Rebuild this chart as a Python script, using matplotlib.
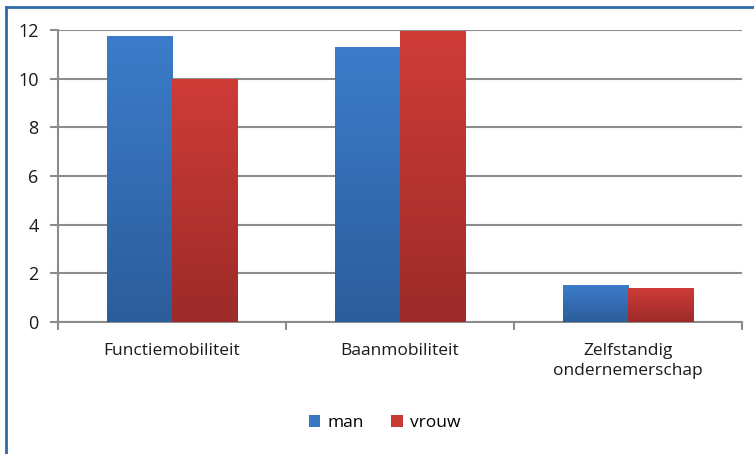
import numpy as np
import matplotlib
matplotlib.use("Agg")
import matplotlib.pyplot as plt
from matplotlib.colors import LinearSegmentedColormap
from matplotlib.patches import Patch
from matplotlib.lines import Line2D

# data
categories = ["Functiemobiliteit", "Baanmobiliteit", "Zelfstandig\nondernemerschap"]
series_names = ["man", "vrouw"]
man = [11.75, 11.3, 1.5]
vrouw = [10.0, 11.95, 1.4]
yticks = [0, 2, 4, 6, 8, 10, 12]

plt.rcParams['font.family'] = ['Open Sans', 'DejaVu Sans']

# gradient colours: (bottom, top)
grads = {
    "man": ("#2c5d9b", "#3c7cca"),
    "vrouw": ("#9c2b29", "#cf3c38"),
}
legend_cols = {"man": "#3a77c2", "vrouw": "#c83935"}

fig = plt.figure(figsize=(7.54, 4.54), dpi=100)
ax = fig.add_axes([0.077, 0.291, 0.907, 0.643])

x = np.arange(len(categories))
w = 0.286
grad = np.linspace(0, 1, 256).reshape(-1, 1)

for vals, name, off in [(man, "man", -w / 2), (vrouw, "vrouw", w / 2)]:
    cmap = LinearSegmentedColormap.from_list(name, grads[name])
    bars = ax.bar(x + off, vals, width=w, color="none", edgecolor="none", zorder=3)
    for b in bars:
        x0, x1 = b.get_x(), b.get_x() + b.get_width()
        h = b.get_height()
        im = ax.imshow(grad, extent=[x0, x1, 0, h], origin="lower", aspect="auto",
                       cmap=cmap, zorder=3)
        im.set_clip_path(b)

ax.set_xlim(-0.5, len(categories) - 0.5)
ax.set_ylim(0, 12)
ax.set_yticks(yticks)
ax.yaxis.grid(True, color="#8c8c8c", linewidth=1.5, zorder=0)
ax.set_axisbelow(True)

for s in ["top", "right"]:
    ax.spines[s].set_visible(False)
for s in ["left", "bottom"]:
    ax.spines[s].set_color("#8c8c8c")
    ax.spines[s].set_linewidth(1.5)

ax.tick_params(axis="y", length=6, width=1.5, color="#8c8c8c", labelsize=13,
               pad=8, labelcolor="#1a1a1a")
ax.set_xticks(np.arange(len(categories) + 1) - 0.5)
ax.set_xticklabels([])
ax.tick_params(axis="x", length=6, width=1.5, color="#8c8c8c")
ax.set_xticks(x, minor=True)
ax.set_xticklabels(categories, minor=True, fontsize=12.5, color="#1a1a1a",
                   linespacing=1.35)
ax.tick_params(axis="x", which="minor", length=0, pad=15)

handles = [Patch(facecolor=legend_cols[n], edgecolor="none") for n in series_names]
fig.legend(handles, series_names, loc="center", bbox_to_anchor=(0.51, 0.068),
           ncol=2, frameon=False, fontsize=12.5, handlelength=0.65, handleheight=0.65,
           handletextpad=0.4, columnspacing=1.6)

# chart frame (only left and top edges visible in the crop)
border = "#2e6aa3"
fig.add_artist(Line2D([0.0075, 0.0075], [0, 0.985], transform=fig.transFigure,
                      color=border, linewidth=2))
fig.add_artist(Line2D([0.0075, 1.0], [0.985, 0.985], transform=fig.transFigure,
                      color=border, linewidth=2))

fig.savefig("out.png", dpi=100)
